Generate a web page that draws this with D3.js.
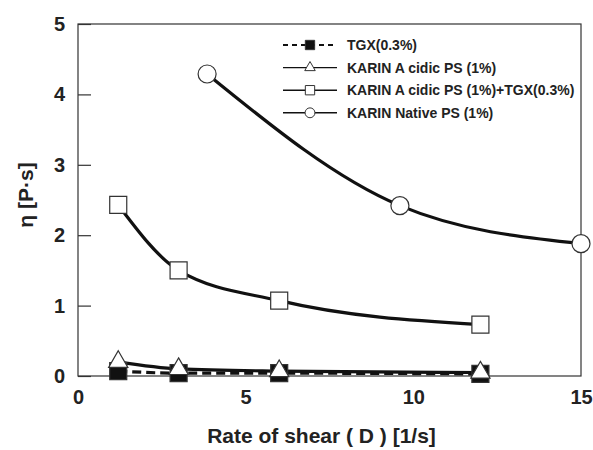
<!DOCTYPE html>
<html>
<head>
<meta charset="utf-8">
<script src="https://cdn.jsdelivr.net/npm/d3@7"></script>
<style>
  body { margin: 0; background: #fff; }
  text { font-family: "Liberation Sans", Arial, sans-serif; font-weight: bold; fill: #222; }
</style>
</head>
<body>
<script>
// data
var shearX = [1.2, 3, 6, 12];
var tgx = [0.07, 0.04, 0.04, 0.03];
var acidic = [0.2, 0.1, 0.07, 0.05];
var acidicTgx = [2.43, 1.5, 1.07, 0.73];
var nativeX = [3.85, 9.6, 15];
var native = [4.29, 2.42, 1.88];
var legendLabels = ['TGX(0.3%)', 'KARIN A cidic PS (1%)', 'KARIN A cidic PS (1%)+TGX(0.3%)', 'KARIN Native PS (1%)'];
var xTicks = [0, 5, 10, 15];
var yTicks = [0, 1, 2, 3, 4, 5];

var width = 593, height = 450;
var margin = { left: 78, right: 12, top: 24, bottom: 74 };

var svg = d3.select('body')
    .append('svg')
    .attr('width', width)
    .attr('height', height);

var x = d3.scaleLinear()
    .domain([0, 15])
    .range([margin.left, width - margin.right]);
var y = d3.scaleLinear()
    .domain([0, 5])
    .range([height - margin.bottom, margin.top]);

// frame
svg.append('rect')
    .attr('x', x(0))
    .attr('y', y(5))
    .attr('width', x(15) - x(0))
    .attr('height', y(0) - y(5))
    .attr('fill', 'none')
    .attr('stroke', '#333')
    .attr('stroke-width', 1.2);

var yAxis = svg.append('g')
    .attr('transform', 'translate(' + x(0) + ',0)')
    .call(d3.axisLeft(y).tickValues(yTicks).tickSize(-13).tickPadding(13).tickFormat(d3.format('d')));
yAxis.select('.domain').remove();
yAxis.selectAll('line').attr('stroke', '#333').attr('stroke-width', 1.2);
yAxis.selectAll('text').style('font-size', '20px').attr('fill', '#222');

var xAxis = svg.append('g')
    .attr('transform', 'translate(0,' + y(0) + ')')
    .call(d3.axisBottom(x).tickValues(xTicks).tickSize(0).tickPadding(14).tickFormat(d3.format('d')));
xAxis.select('.domain').remove();
xAxis.selectAll('text').style('font-size', '20px').attr('fill', '#222');

svg.append('text')
    .attr('x', (x(0) + x(15)) / 2 - 8)
    .attr('y', 443)
    .attr('text-anchor', 'middle')
    .style('font-size', '21px')
    .text('Rate of shear ( D ) [1/s]');

svg.append('text')
    .attr('transform', 'translate(33,195) rotate(-90)')
    .attr('text-anchor', 'middle')
    .style('font-size', '21px')
    .text('η [P·s]');

var line = d3.line()
    .x(function (d) { return x(d[0]); })
    .y(function (d) { return y(d[1]); })
    .curve(d3.curveMonotoneX);

function pairs(xs, ys) {
    return xs.map(function (v, i) { return [v, ys[i]]; });
}

var sqSym = d3.symbol().type(d3.symbolSquare);
var triSym = d3.symbol().type(d3.symbolTriangle);
var cirSym = d3.symbol().type(d3.symbolCircle);

var series = [
    { data: pairs(shearX, tgx), sym: sqSym, size: 290, fill: '#111', dash: '9,5' },
    { data: pairs(shearX, acidic), sym: triSym, size: 160, fill: '#fff', dash: null },
    { data: pairs(shearX, acidicTgx), sym: sqSym, size: 290, fill: '#fff', dash: null },
    { data: pairs(nativeX, native), sym: cirSym, size: 255, fill: '#fff', dash: null }
];

series.forEach(function (s) {
    svg.append('path')
        .datum(s.data)
        .attr('d', line)
        .attr('fill', 'none')
        .attr('stroke', '#111')
        .attr('stroke-width', 3.2)
        .attr('stroke-dasharray', s.dash);
});

series.forEach(function (s) {
    svg.selectAll(null)
        .data(s.data)
        .enter()
        .append('path')
        .attr('transform', function (d) { return 'translate(' + x(d[0]) + ',' + y(d[1]) + ')'; })
        .attr('d', s.sym.size(s.size))
        .attr('fill', s.fill)
        .attr('stroke', '#333')
        .attr('stroke-width', 1.2);
});

// legend
var legend = svg.append('g').attr('transform', 'translate(283,45)');
var rows = legend.selectAll('g')
    .data(series)
    .enter()
    .append('g')
    .attr('transform', function (d, i) { return 'translate(0,' + (i * 22.6) + ')'; });

rows.append('line')
    .attr('x1', 0)
    .attr('x2', 54)
    .attr('stroke', '#111')
    .attr('stroke-width', function (d) { return d.dash ? 2 : 1.4; })
    .attr('stroke-dasharray', function (d) { return d.dash ? '5,4' : null; });

rows.append('path')
    .attr('transform', 'translate(27,0)')
    .attr('d', function (d) { return d.sym.size(d.size * 0.3)(); })
    .attr('fill', function (d) { return d.fill; })
    .attr('stroke', '#333')
    .attr('stroke-width', 1);

rows.append('text')
    .attr('x', 64)
    .attr('dy', '0.36em')
    .style('font-size', '14px')
    .text(function (d, i) { return legendLabels[i]; });
</script>
</body>
</html>
